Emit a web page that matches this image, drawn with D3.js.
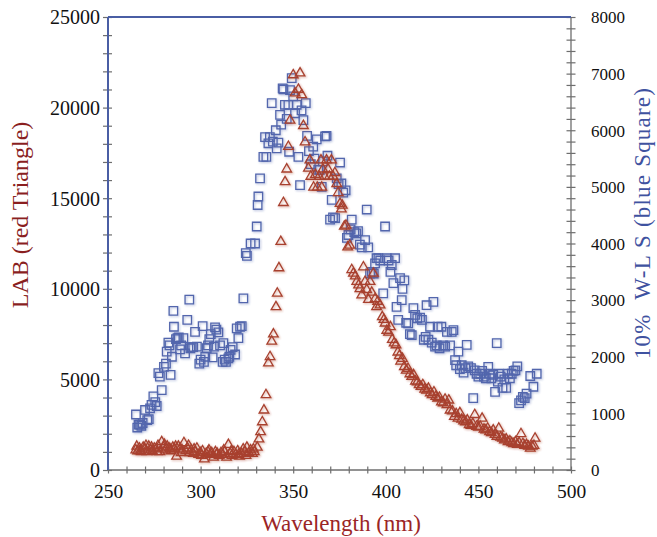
<!DOCTYPE html>
<html lang="en">
<head>
<meta charset="utf-8">
<title>LAB vs 10% W-LS</title>
<script src="https://cdn.jsdelivr.net/npm/d3@7"></script>
<style>
  body { margin: 0; background: #fff; }
  text { font-family: "Liberation Serif", "Times New Roman", serif; }
</style>
</head>
<body>
<script>

// LAB series (red triangles, left axis)
var labWl = [
  265, 265.5, 266, 267, 267.5, 268, 269, 270, 270.5, 271,
  272, 273, 273.5, 274, 275, 276, 276.5, 277, 278, 279,
  280, 280.5, 281, 282, 283, 283.5, 284, 285, 286, 286.5,
  287, 288, 289, 289.5, 290, 291, 292, 293, 293.5, 294,
  295, 296, 296.5, 297, 298, 299, 300, 300.5, 301, 302,
  303, 304, 304.5, 305, 306, 307, 308, 308.5, 309, 310,
  311, 312, 312.5, 313, 314, 315, 316, 316.5, 317, 318,
  319, 320, 320.5, 321, 322, 323, 324, 324.5, 325, 326,
  327, 328, 328.5, 329, 330.6, 331.5, 332.4, 333.3, 334.2, 335.3,
  336.6, 337.5, 338.4, 339.3, 340.7, 341.4, 342.3, 343.3, 344.7, 345.6,
  346.5, 347.4, 348.3, 350, 351, 352.8, 353.7, 354.6, 355.5, 356.4,
  358.2, 359, 359.5, 361, 362, 363, 364, 365, 365.4, 366,
  367, 368, 368.8, 369.5, 370.6, 371.5, 372.5, 373.5, 374.3, 375.3,
  376, 376.5, 377.6, 378.5, 379.4, 380.5, 381.6, 382.5, 383.5, 384.3,
  385.3, 386, 387, 387.9, 388.8, 389.7, 390.6, 391.5, 392.4, 393.3,
  394.2, 395, 395.6, 396.9, 398.1, 399, 399.6, 400.5, 401.5, 402.5,
  403.5, 404.5, 405.5, 406.5, 407.3, 408, 409, 410, 411, 412,
  413, 414, 415, 416, 417, 418, 419, 420, 421, 422,
  423, 424, 425, 426, 427, 428, 429, 430, 431, 432,
  433, 434, 434.7, 436, 437, 438, 439, 440, 441, 442,
  443, 444, 445, 446, 447, 448, 449, 450, 451, 452,
  453, 454, 455, 456, 457, 458, 459, 460, 461, 462,
  463, 464, 465, 466, 467, 468, 469, 470, 471, 472,
  473, 474, 475, 476, 477, 478, 479, 480, 480.6
];
var labVal = [
  1100, 1300, 1050, 1200, 1050, 1000, 1250, 1150, 1350, 1000,
  1300, 1100, 1250, 1050, 1200, 1150, 1000, 1350, 1000, 1550,
  1250, 1400, 1100, 1300, 1200, 1150, 1050, 1250, 1150, 1300,
  750, 1300, 1200, 950, 1100, 1500, 1050, 1200, 1350, 950,
  1100, 900, 1150, 1000, 1200, 850, 950, 800, 1050, 600,
  900, 1000, 1100, 850, 950, 700, 1000, 850, 900, 800,
  950, 850, 1100, 1000, 700, 1400, 900, 1050, 800, 1000,
  850, 1050, 850, 750, 900, 1150, 1000, 800, 1250, 950,
  1100, 900, 1150, 1000, 1250, 1700, 2100, 2650, 3300, 4150,
  5900, 6250, 7100, 7500, 9000, 9750, 11150, 12600, 14750, 15900,
  16600, 17850, 19300, 21800, 20800, 21000, 21900, 20700, 19000, 18100,
  16650, 17100, 16200, 15600, 16300, 15600, 16200, 17100, 15600, 16600,
  16200, 17100, 16600, 16200, 17100, 16200, 16400, 15800, 15300, 14700,
  14400, 14600, 13450, 13500, 12300, 12400, 11050, 10850, 10700, 10400,
  10200, 10000, 9650, 11200, 10400, 9950, 9400, 10400, 9800, 10850,
  9450, 9000, 9300, 9100, 8450, 8300, 8100, 7700, 7600, 7900,
  7200, 7000, 6900, 6500, 6300, 6000, 6150, 5700, 5500, 5600,
  5300, 5150, 5250, 4900, 4850, 4700, 4600, 4700, 4450, 4400,
  4500, 4250, 4150, 4300, 4050, 3950, 4000, 3750, 3700, 3900,
  3600, 3850, 3300, 3250, 2950, 3100, 2850, 3150, 2800, 2700,
  2650, 2750, 2500, 2450, 2550, 3050, 2400, 2350, 2400, 2850,
  2250, 2200, 2300, 2100, 2050, 2200, 1950, 1850, 2300, 1800,
  1750, 1650, 1700, 1550, 1600, 1500, 1450, 1550, 1400, 1500,
  2000, 1450, 1350, 1400, 1300, 1200, 1300, 1350, 1750
];

// 10% W-LS series (blue squares, right axis)
var wlsWl = [
  265.1, 265.8, 266.5, 267.3, 268, 268.7, 270, 271.2, 272, 272.7,
  273.5, 274.5, 275.5, 276.3, 277.2, 278, 279, 280.2, 281.3, 281.7,
  282.6, 283.2, 283.8, 284.5, 285.3, 285.6, 286.7, 287.5, 288.2, 288.9,
  289.5, 290.7, 291.6, 292.8, 293.9, 294.5, 295.2, 296, 297, 298,
  299.3, 300, 301.1, 301.8, 302.5, 303.3, 304, 304.7, 305.5, 306.5,
  307.2, 307.8, 308.5, 309.6, 310.5, 311.9, 312.3, 313, 313.7, 315,
  315.5, 316.2, 317.3, 318.6, 319.5, 320.4, 321.3, 322.2, 323.1, 324.4,
  325, 327, 329.4, 330.3, 330.8, 331.2, 332.1, 333.9, 334.8, 335.5,
  336.6, 337.4, 338.4, 339, 340.6, 341.1, 342, 342.9, 343.5, 344.3,
  344.7, 345.5, 346.5, 347.4, 347.8, 348.3, 349.2, 350, 351, 351.9,
  352.8, 353.7, 354.5, 355.5, 356.8, 357.5, 358.5, 359.5, 360.8, 361.5,
  362.7, 363.5, 364.4, 365.4, 366, 367.2, 368, 368.5, 369.9, 370.8,
  371.5, 372.6, 373.5, 374.5, 375.3, 376, 377, 378.3, 379, 379.8,
  381, 381.6, 383, 384, 385, 386, 387, 388.8, 389.7, 390.5,
  391.5, 392.5, 393.5, 394.2, 395, 396, 397, 398.6, 399.6, 400.5,
  401.5, 402.5, 403.2, 404.1, 405, 405.8, 406.7, 407.7, 408.6, 409,
  410, 411, 412.1, 413, 414, 414.9, 415.8, 417, 418.5, 419.5,
  420.5, 421.5, 422, 423, 423.9, 424.8, 425.7, 426.6, 427.5, 428,
  429, 430, 431, 432, 433, 434.7, 435.6, 436.5, 437.4, 438,
  439.2, 440, 441, 442, 443, 443.7, 444.5, 446, 447.2, 448,
  449, 450, 451, 452, 453, 454, 455.3, 456, 457, 458,
  459, 459.9, 460.5, 461, 462, 463, 464, 465, 466, 467,
  468, 469, 470, 471, 472, 473, 474, 475, 476, 478,
  479.7, 481.5
];
var wlsVal = [
  980, 750, 800, 800, 780, 830, 1060, 880, 900, 1090,
  1150, 1300, 1200, 1130, 1710, 1650, 1410, 1820, 1880, 2090,
  2250, 2200, 1680, 2000, 2810, 2530, 2310, 2330, 2340, 2130,
  2200, 2330, 2060, 2650, 3010, 2150, 2170, 2170, 2440, 2180,
  1880, 1950, 2540, 1910, 2000, 2150, 2200, 2310, 2400, 1990,
  2180, 2520, 2480, 2430, 2200, 1910, 2240, 1950, 1910, 1970,
  2000, 2120, 2170, 2040, 2500, 2330, 2530, 2540, 3030, 3830,
  3780, 4000, 4000, 4300, 4680, 4830, 5150, 5530, 5880, 5530,
  5770, 5880, 6480, 5800, 6000, 5680, 5780, 6270, 6100, 6740,
  6720, 6450, 6200, 6450, 5620, 6710, 6920, 6600, 6300, 6450,
  5530, 5030, 6350, 6180, 6480, 5900, 5630, 5400, 5710, 5500,
  5840, 5300, 5300, 5000, 5450, 5890, 5900, 5550, 4420, 4770,
  4460, 4450, 5150, 5050, 5430, 5060, 4900, 4940, 4100, 4150,
  4250, 4420, 4200, 4180, 4220, 3980, 3930, 4060, 4600, 3930,
  3470, 3500, 3470, 3650, 3740, 3740, 3700, 3120, 4300, 3740,
  3700, 3500, 3620, 3300, 3740, 2880, 2650, 3390, 3000, 3200,
  3350, 2600, 2590, 2400, 2380, 2860, 2740, 2680, 2690, 2650,
  2300, 2350, 2910, 2300, 2530, 2250, 2970, 2180, 2200, 2530,
  2150, 2530, 2200, 2180, 2440, 2200, 2440, 2470, 1940, 1850,
  2090, 1780, 1850, 1720, 1800, 2210, 1830, 1800, 1270, 1760,
  1700, 1650, 1700, 1750, 1650, 1620, 1820, 1700, 1620, 1680,
  1380, 2240, 1560, 1700, 1650, 1450, 1600, 1450, 1700, 1620,
  1700, 1750, 1760, 1830, 1180, 1230, 1290, 1270, 1350, 1660,
  1470, 1700
];

// Tick values
var xTicks = [250, 300, 350, 400, 450, 500];
var leftTicks = [0, 5000, 10000, 15000, 20000, 25000];
var rightTicks = [0, 1000, 2000, 3000, 4000, 5000, 6000, 7000, 8000];

// Size and plot box (note: "top" is a reserved window name, so plot* names)
var w = 657;
var h = 537;
var plotL = 108, plotR = 571, plotT = 17, plotB = 470;

var red = "#a8412f";
var blue = "#5266ad";
var axisGray = "#6e6e6e";
var axisBlue = "#4a5ea4";

// Scales
var xScale = d3.scaleLinear().domain([250, 500]).range([plotL, plotR]);
var yLeft = d3.scaleLinear().domain([0, 25000]).range([plotB, plotT]);
var yRight = d3.scaleLinear().domain([0, 8000]).range([plotB, plotT]);

var svg = d3.select("body")
  .append("svg")
  .attr("width", w)
  .attr("height", h);

// soft look of the markers
var defs = svg.append("defs");
var f = defs.append("filter").attr("id", "soft")
  .attr("x", "-50%").attr("y", "-50%").attr("width", "200%").attr("height", "200%");
f.append("feGaussianBlur").attr("in", "SourceGraphic").attr("stdDeviation", 1.1).attr("result", "b");
f.append("feOffset").attr("in", "b").attr("dx", 0.8).attr("dy", 0.9).attr("result", "o");
f.append("feComponentTransfer").attr("in", "o").attr("result", "s")
  .append("feFuncA").attr("type", "linear").attr("slope", 0.45);
f.append("feGaussianBlur").attr("in", "SourceGraphic").attr("stdDeviation", 0.35).attr("result", "c");
var m = f.append("feMerge");
m.append("feMergeNode").attr("in", "s");
m.append("feMergeNode").attr("in", "c");

// Minor ticks (crossing the axis lines)
var xMinor = d3.axisBottom(xScale).tickValues(d3.range(250, 501, 10)).tickSize(7).tickFormat("");
svg.append("g").attr("class", "x minor")
  .attr("transform", "translate(0," + (plotB - 3.5) + ")")
  .call(xMinor);

var lMinor = d3.axisLeft(yLeft).tickValues(d3.range(0, 25001, 1000)).tickSize(9).tickFormat("");
svg.append("g").attr("class", "l minor")
  .attr("transform", "translate(" + (plotL + 4) + ",0)")
  .call(lMinor);

var rMinor = d3.axisRight(yRight).tickValues(d3.range(0, 8001, 200)).tickSize(9).tickFormat("");
svg.append("g").attr("class", "r minor")
  .attr("transform", "translate(" + (plotR - 4.5) + ",0)")
  .call(rMinor);

svg.selectAll(".minor .domain").remove();
svg.selectAll(".minor line").attr("stroke", axisGray).attr("stroke-width", 1.2);

// Frame lines
svg.append("line").attr("x1", plotL).attr("x2", plotR).attr("y1", plotB).attr("y2", plotB)
  .attr("stroke", axisGray).attr("stroke-width", 1.3);
svg.append("line").attr("x1", plotR).attr("x2", plotR).attr("y1", plotT).attr("y2", plotB)
  .attr("stroke", axisGray).attr("stroke-width", 1.3);
svg.append("line").attr("x1", plotL).attr("x2", plotR).attr("y1", plotT).attr("y2", plotT)
  .attr("stroke", axisBlue).attr("stroke-width", 2);
svg.append("line").attr("x1", plotL).attr("x2", plotL).attr("y1", plotT).attr("y2", plotB)
  .attr("stroke", axisBlue).attr("stroke-width", 2);

// Tick labels
var fmt = d3.format("d");
var xAxis = d3.axisBottom(xScale).tickValues(xTicks).tickFormat(fmt).tickSize(0).tickPadding(14);
var gx = svg.append("g").attr("transform", "translate(0," + plotB + ")").call(xAxis);

var lAxis = d3.axisLeft(yLeft).tickValues(leftTicks).tickFormat(fmt).tickSize(0).tickPadding(8);
var gl = svg.append("g").attr("transform", "translate(" + plotL + ",0)").call(lAxis);

var rAxis = d3.axisRight(yRight).tickValues(rightTicks).tickFormat(fmt).tickSize(0).tickPadding(20);
var gr = svg.append("g").attr("transform", "translate(" + plotR + ",0)").call(rAxis);

[gx, gl, gr].forEach(function(g) {
  g.select(".domain").remove();
  g.selectAll("text").attr("fill", "#111").attr("font-family", "Liberation Serif, serif");
});
gx.selectAll("text").attr("font-size", 19.5);
gl.selectAll("text").attr("font-size", 20).attr("dy", "0.34em");
gr.selectAll("text").attr("font-size", 17).attr("dy", "0.34em");

// Scatter points: blue squares first, red triangles over them
var square = d3.symbol().type(d3.symbolSquare).size(72);
var tri = d3.symbol().type(d3.symbolTriangle).size(40);

svg.append("g")
  .attr("filter", "url(#soft)")
  .selectAll("path")
  .data(d3.range(wlsWl.length))
  .enter()
  .append("path")
  .attr("d", square)
  .attr("transform", function(i) {
    return "translate(" + xScale(wlsWl[i]) + "," + yRight(wlsVal[i]) + ")";
  })
  .attr("fill", "none")
  .attr("stroke", blue)
  .attr("stroke-width", 1.3);

svg.append("g")
  .attr("filter", "url(#soft)")
  .selectAll("path")
  .data(d3.range(labWl.length))
  .enter()
  .append("path")
  .attr("d", tri)
  .attr("transform", function(i) {
    return "translate(" + xScale(labWl[i]) + "," + yLeft(labVal[i]) + ")";
  })
  .attr("fill", "none")
  .attr("stroke", red)
  .attr("stroke-width", 1.3);

// Axis titles
svg.append("text")
  .attr("x", 341).attr("y", 531)
  .attr("text-anchor", "middle")
  .attr("font-size", 23)
  .attr("fill", "#9b2526")
  .text("Wavelength (nm)");

svg.append("text")
  .attr("transform", "translate(28,215) rotate(-90)")
  .attr("text-anchor", "middle")
  .attr("font-size", 24)
  .attr("fill", "#8a1f1f")
  .text("LAB (red Triangle)");

svg.append("text")
  .attr("transform", "translate(650,223) rotate(-90)")
  .attr("text-anchor", "middle")
  .attr("font-size", 23)
  .attr("letter-spacing", 1.2)
  .attr("fill", "#3f52a0")
  .attr("xml:space", "preserve")
  .text("10%  W-L S (blue Square)");

</script>
</body>
</html>
